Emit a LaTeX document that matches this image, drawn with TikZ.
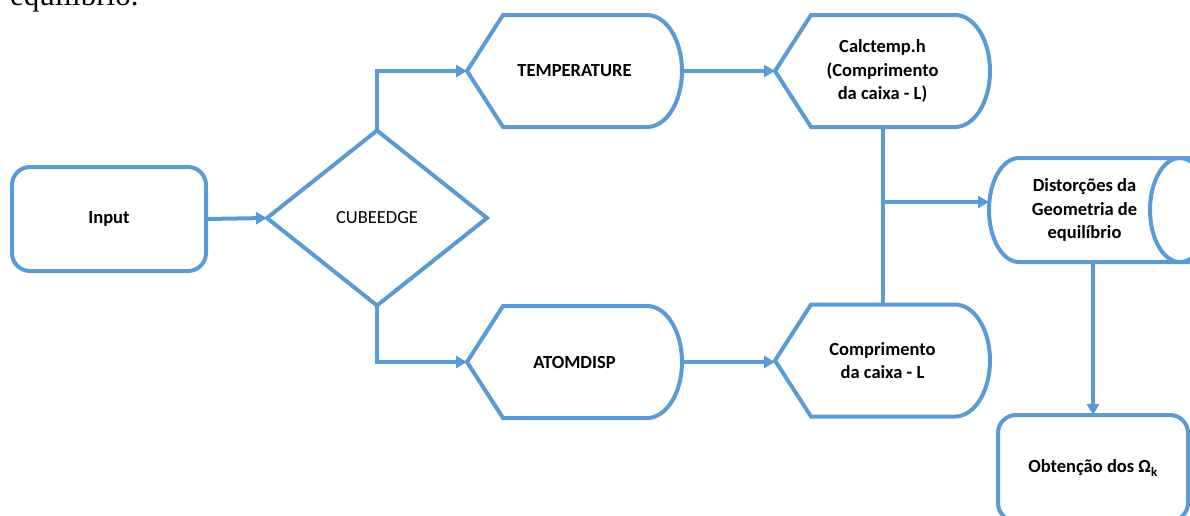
\documentclass[tikz,border=0pt]{standalone}
\usepackage{fontspec}
\setmainfont{Carlito}
\newfontfamily\serifx{Liberation Serif}
\usetikzlibrary{shapes.geometric,arrows.meta,calc}
\definecolor{fcblue}{HTML}{5B9BD5}
\begin{document}
\begin{tikzpicture}[x=1pt,y=1pt,
  shapeline/.style={draw=fcblue, line width=4pt},
  conn/.style={draw=fcblue, line width=4pt, -{Triangle[length=11pt,width=12pt]}},
  lbl/.style={font=\fontsize{18.5}{23.5}\selectfont\bfseries, align=center, text=black, inner sep=0pt, outer sep=0pt},
  dispnode/.style={lbl, minimum width=215pt, minimum height=112pt},
  roundbox/.style={lbl, rectangle, shapeline, rounded corners=18pt}
]
\useasboundingbox (0,0) rectangle (1190,-515);
\clip (0,0) rectangle (1190,-515);

% cut-off caption text at the top
\node[font=\serifx\fontsize{31}{31}\selectfont, anchor=base west, inner sep=0pt] (eq) at (10,-5) {equilíbrio.};

% Input
\node[roundbox, minimum width=194pt, minimum height=104pt] (I) at (109,-219) {Input};

% Decision
\node[lbl, diamond, shapeline, font=\fontsize{18.5}{23.5}\selectfont, minimum width=220pt, minimum height=175pt] (Dm) at (377,-218) {CUBEEDGE};

% Display shapes
\node[dispnode] (T) at (574.5,-71) {TEMPERATURE};
\node[dispnode] (A) at (574.5,-362) {ATOMDISP};
\node[dispnode] (C) at (882.5,-71) {Calctemp.h\\(Comprimento\\da caixa - L)};
\node[dispnode] (M) at (882.5,-360.5) {Comprimento\\da caixa - L};

\foreach \n in {T,A,C,M}{
  \draw[shapeline] (\n.west) -- ([xshift=36pt]\n.north west) -- ([xshift=-35pt]\n.north east)
    arc[start angle=90,end angle=-90,x radius=35pt,y radius=56pt]
    -- ([xshift=36pt]\n.south west) -- cycle;
}

% Stored data shape
\node[lbl, minimum width=191pt, minimum height=104pt] (D) at (1084.5,-210) {Distorções da\\Geometria de\\equilíbrio};
\draw[shapeline] ([xshift=40pt]D.north east) -- ([xshift=30pt]D.north west)
  arc[start angle=90,end angle=270,x radius=30pt,y radius=52pt]
  -- ([xshift=40pt]D.south east);
\draw[shapeline] (D.east) ellipse[x radius=30pt,y radius=52pt];

% Final box
\node[roundbox, minimum width=190pt, minimum height=106pt] (O) at (1093,-468) {Obtenção dos Ω\textsubscript{k}};

% Connectors
\draw[conn] (I.east) -- (Dm.west);
\draw[conn] (Dm.north) |- (T.west);
\draw[conn] (Dm.south) |- (A.west);
\draw[conn] (T.east) -- (C.west);
\draw[conn] (A.east) -- (A.east -| M.west);
\draw[shapeline] (C.south) -- (C.south |- M.north);
\coordinate (J) at ($(C.south)+(0,-75)$);
\draw[conn] (J) -- (J -| D.west);
\draw[conn] (O.north |- D.south) -- (O.north);
\end{tikzpicture}
\end{document}
